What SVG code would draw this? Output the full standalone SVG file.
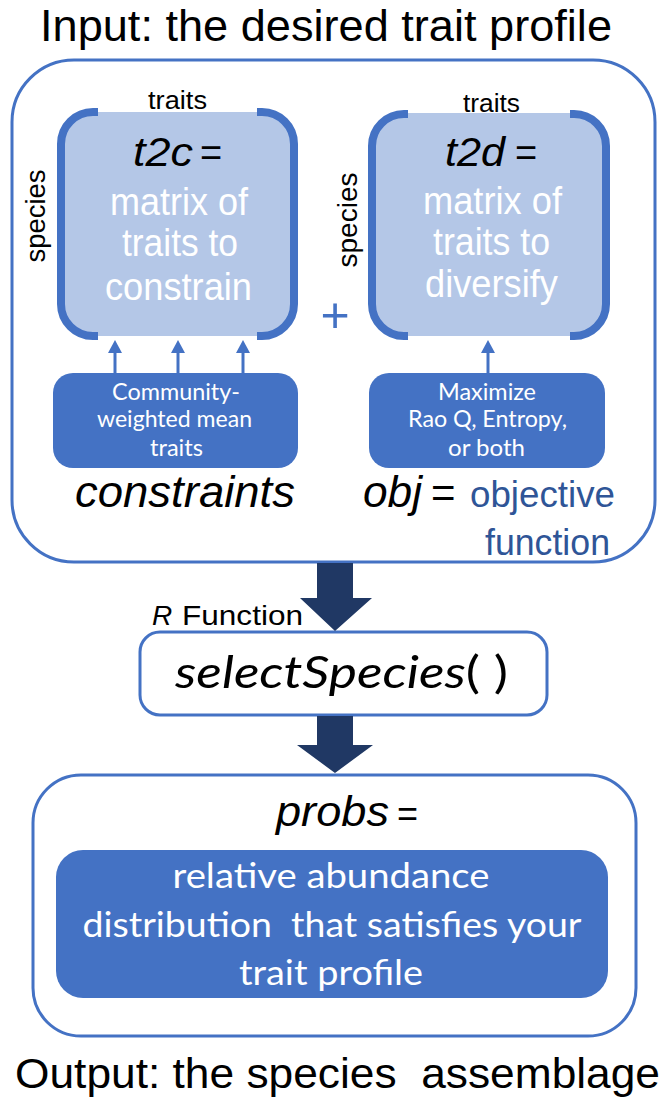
<svg xmlns="http://www.w3.org/2000/svg" width="664" height="1101" viewBox="0 0 664 1101">
<style>
.sans{font-family:"Liberation Sans",Arial,sans-serif}
.cal{font-family:Lato,"Open Sans",sans-serif}
.it{font-style:italic}
.blk{fill:#000}
.wht{fill:#fff}
.frame{fill:#fff;stroke:#4472C4;stroke-width:3}
.bluebox{fill:#4472C4}
.light{fill:#B4C7E7}
.brk{fill:none;stroke:#4472C4;stroke-width:8}
.thin{stroke:#4472C4;stroke-width:3;fill:none}
.head{fill:#4472C4}
.big{fill:#203864}
</style>
<rect width="664" height="1101" fill="#fff"/>

<g id="title">
<text class="sans blk" x="40" y="41" font-size="44" textLength="572" lengthAdjust="spacingAndGlyphs">Input: the desired trait profile</text>
</g>

<g id="input-frame">
<rect class="frame" x="12" y="60" width="643" height="502" rx="62"/>
</g>

<g id="t2c">
<rect class="light" x="61" y="112" width="233" height="224" rx="32"/>
<path class="brk" d="M98 112 H93 A32 32 0 0 0 61 144 V304 A32 32 0 0 0 93 336 H98"/>
<path class="brk" d="M257 112 H262 A32 32 0 0 1 294 144 V304 A32 32 0 0 1 262 336 H257"/>
<text class="sans blk" x="148" y="109" font-size="26" textLength="59" lengthAdjust="spacingAndGlyphs">traits</text>
<text class="sans blk" transform="translate(45,216) rotate(-90)" text-anchor="middle" font-size="27" textLength="93" lengthAdjust="spacingAndGlyphs">species</text>
<text class="sans blk it" x="133" y="166" font-size="40" textLength="60" lengthAdjust="spacingAndGlyphs">t2c</text>
<text class="sans blk" x="200" y="166" font-size="38">=</text>
<text class="sans wht" x="110" y="215" font-size="38" textLength="138" lengthAdjust="spacingAndGlyphs">matrix of</text>
<text class="sans wht" x="122" y="256" font-size="38" textLength="116" lengthAdjust="spacingAndGlyphs">traits to</text>
<text class="sans wht" x="105" y="300" font-size="38" textLength="147" lengthAdjust="spacingAndGlyphs">constrain</text>
</g>

<g id="plus">
<text class="sans" x="335" y="332" font-size="50" text-anchor="middle" fill="#4472C4">+</text>
</g>

<g id="t2d">
<rect class="light" x="372" y="113" width="234" height="223" rx="32"/>
<path class="brk" d="M408 114 H404 A32 32 0 0 0 372 146 V304 A32 32 0 0 0 404 336 H408"/>
<path class="brk" d="M570 114 H574 A32 32 0 0 1 606 146 V304 A32 32 0 0 1 574 336 H570"/>
<text class="sans blk" x="463" y="112" font-size="26" textLength="57" lengthAdjust="spacingAndGlyphs">traits</text>
<text class="sans blk" transform="translate(357,220) rotate(-90)" text-anchor="middle" font-size="27" textLength="95" lengthAdjust="spacingAndGlyphs">species</text>
<text class="sans blk it" x="445" y="166" font-size="40" textLength="60" lengthAdjust="spacingAndGlyphs">t2d</text>
<text class="sans blk" x="515" y="166" font-size="38">=</text>
<text class="sans wht" x="423" y="214" font-size="38" textLength="139" lengthAdjust="spacingAndGlyphs">matrix of</text>
<text class="sans wht" x="433" y="255" font-size="38" textLength="117" lengthAdjust="spacingAndGlyphs">traits to</text>
<text class="sans wht" x="425" y="297" font-size="38" textLength="133" lengthAdjust="spacingAndGlyphs">diversify</text>
</g>

<g id="constraints-box">
<rect class="bluebox" x="53" y="373" width="245" height="95" rx="20"/>
<text class="cal wht" x="176" y="400" font-size="24" text-anchor="middle" textLength="128" lengthAdjust="spacingAndGlyphs">Community-</text>
<text class="cal wht" x="174.5" y="427" font-size="24" text-anchor="middle" textLength="155" lengthAdjust="spacingAndGlyphs">weighted mean</text>
<text class="cal wht" x="176.5" y="456" font-size="24" text-anchor="middle" textLength="53" lengthAdjust="spacingAndGlyphs">traits</text>
<text class="sans blk it" x="75" y="507" font-size="45" textLength="220" lengthAdjust="spacingAndGlyphs">constraints</text>
</g>

<g id="objective-box">
<rect class="bluebox" x="369" y="373" width="236" height="95" rx="20"/>
<text class="cal wht" x="487" y="400" font-size="24" text-anchor="middle" textLength="98" lengthAdjust="spacingAndGlyphs">Maximize</text>
<text class="cal wht" x="487.5" y="427" font-size="24" text-anchor="middle" textLength="159" lengthAdjust="spacingAndGlyphs">Rao Q, Entropy,</text>
<text class="cal wht" x="486.5" y="456" font-size="24" text-anchor="middle" textLength="77" lengthAdjust="spacingAndGlyphs">or both</text>
<text class="sans blk it" x="363" y="507" font-size="44" textLength="59" lengthAdjust="spacingAndGlyphs">obj</text>
<text class="sans blk" x="431" y="507" font-size="42">=</text>
<text class="sans" x="470" y="507" font-size="36" fill="#2F5597" textLength="145" lengthAdjust="spacingAndGlyphs">objective</text>
<text class="sans" x="485" y="555" font-size="36" fill="#2F5597" textLength="125" lengthAdjust="spacingAndGlyphs">function</text>
</g>

<g id="select-species">
<rect class="frame" x="140" y="632" width="407" height="83" rx="20" stroke-width="3.5"/>
<text class="cal blk it" x="175" y="688" font-size="45" textLength="333" lengthAdjust="spacingAndGlyphs">selectSpecies<tspan font-style="normal">( )</tspan></text>
</g>

<g id="r-function-label">
<text class="sans blk" x="152" y="625" font-size="28"><tspan font-style="italic">R</tspan><tspan x="182" textLength="121" lengthAdjust="spacingAndGlyphs">Function</tspan></text>
</g>

<g id="output-frame">
<rect class="frame" x="33" y="775" width="603" height="261" rx="48"/>
<text class="sans blk it" x="276" y="826" font-size="42" textLength="113" lengthAdjust="spacingAndGlyphs">probs</text>
<text class="sans blk" x="397" y="826" font-size="36">=</text>
</g>

<g id="probs-box">
<rect class="bluebox" x="56" y="850" width="552" height="148" rx="27"/>
<text class="cal wht" x="331" y="888" font-size="35" text-anchor="middle" textLength="317" lengthAdjust="spacingAndGlyphs">relative abundance</text>
<text class="cal wht" x="332" y="937" font-size="35" text-anchor="middle" textLength="499" lengthAdjust="spacingAndGlyphs" xml:space="preserve">distribution  that satisfies your</text>
<text class="cal wht" x="331" y="985" font-size="35" text-anchor="middle" textLength="184" lengthAdjust="spacingAndGlyphs">trait profile</text>
</g>

<g id="output-label">
<text class="sans blk" x="15" y="1088" font-size="42" textLength="645" lengthAdjust="spacingAndGlyphs" xml:space="preserve">Output: the species  assemblage</text>
</g>

<g id="connectors">
<line class="thin" x1="115" y1="373" x2="115" y2="350"/>
<polygon class="head" points="108,353 122,353 115,340"/>
<line class="thin" x1="178" y1="373" x2="178" y2="350"/>
<polygon class="head" points="171,353 185,353 178,340"/>
<line class="thin" x1="243" y1="373" x2="243" y2="350"/>
<polygon class="head" points="236,353 250,353 243,340"/>
<line class="thin" x1="488" y1="373" x2="488" y2="350"/>
<polygon class="head" points="481,353 495,353 488,340"/>
<polygon class="big" points="317,563 353,563 353,598 372,598 335,631 300,598 317,598"/>
<polygon class="big" points="317,716 353,716 353,745 373,745 335,773 297,745 317,745"/>
</g>
</svg>
